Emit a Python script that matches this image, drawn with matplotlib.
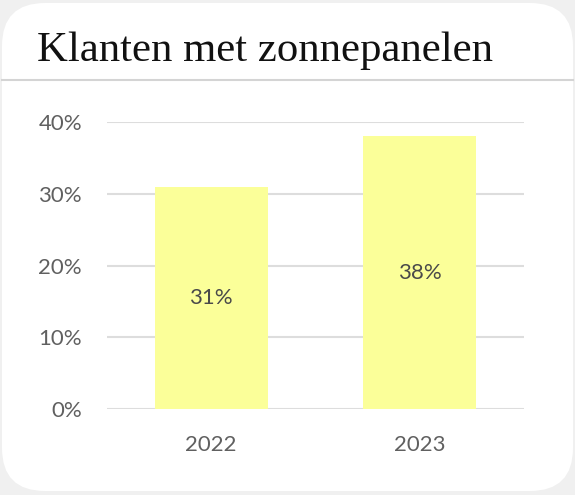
import matplotlib
matplotlib.use("Agg")
import matplotlib.pyplot as plt
from matplotlib.patches import FancyBboxPatch
from matplotlib.lines import Line2D

# data
years = ["2022", "2023"]
shares = [31, 38]
yticks = [0, 10, 20, 30, 40]
title = "Klanten met zonnepanelen"

W, H = 575, 495
fig = plt.figure(figsize=(W / 100, H / 100), dpi=100)
fig.patch.set_facecolor("#f0f0f0")

# white card with rounded corners
card = FancyBboxPatch((2 / W, 4 / H), 571 / W, 488 / H,
                      boxstyle="round,pad=0,rounding_size=0.075",
                      transform=fig.transFigure, facecolor="white",
                      edgecolor="none", mutation_aspect=W / H, zorder=-5)
fig.patches.append(card)

fig.text(37 / W, 1 - 61 / H, title, fontsize=30.8, family="Liberation Serif",
         color="#111111", va="baseline", ha="left")
fig.add_artist(Line2D([2 / W, 573 / W], [1 - 80 / H, 1 - 80 / H],
                      transform=fig.transFigure, color="#d4d4d4", lw=1.5))

ax = fig.add_axes([107 / W, 1 - 409 / H, 417 / W, 287 / H])
ax.set_zorder(2)
ax.set_facecolor("none")
x = range(len(years))
bars = ax.bar(x, shares, width=0.54, color="#fbff99", zorder=2)
for b, v in zip(bars, shares):
    ax.text(b.get_x() + b.get_width() / 2, v / 2, f"{v}%", ha="center",
            va="center", fontsize=16, color="#4a4a4a", family="Lato",
            zorder=3)

ax.set_xlim(-0.5, 1.5)
ax.set_ylim(0, 40)
ax.set_yticks(yticks)
ax.set_yticklabels([f"{t}%" for t in yticks])
ax.set_xticks(list(x))
ax.set_xticklabels(years)
ax.grid(axis="y", color="#dddddd", lw=1.5, zorder=0)
ax.set_axisbelow(True)
for s in ax.spines.values():
    s.set_visible(False)
ax.tick_params(length=0, labelsize=16, labelcolor="#606060")
ax.tick_params(axis="y", pad=18)
ax.tick_params(axis="x", pad=19)
for lab in ax.get_xticklabels() + ax.get_yticklabels():
    lab.set_family("Lato")

fig.savefig("out.png", dpi=100, facecolor=fig.get_facecolor())
